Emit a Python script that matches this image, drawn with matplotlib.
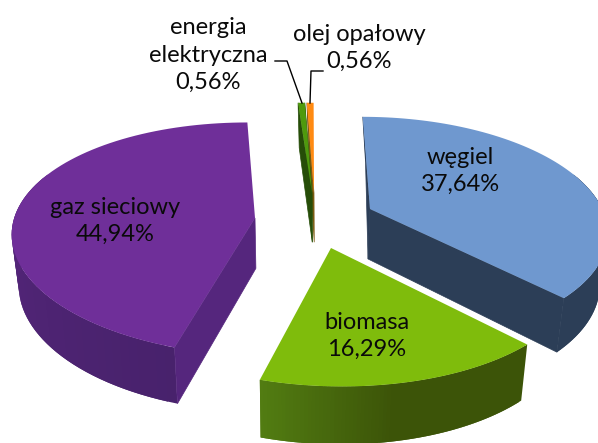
#------------------------------------------------------------------------------
import numpy as np
import matplotlib
matplotlib.use('Agg')
import matplotlib.pyplot as plt
from matplotlib.patches import Polygon

#------------------------------------------------------------------------------
# Dane (kolejnosc zgodnie z ruchem wskazowek zegara, od godziny 12)
nazwy = ['olej opałowy', 'węgiel', 'biomasa', 'gaz sieciowy', 'energia\nelektryczna']
udzialy = [0.56, 37.64, 16.29, 44.94, 0.56]

kolor_gora = ['#ff8a12', '#6f98cf', '#7fbc0c', '#6f2f99', '#4f9a0d']
kolor_bok = ['#7a5a10', '#2c3e57', '#4a6e0a', '#55267d', '#264d08']
kolor_luk_a = ['#a85a08', '#2c3e57', '#3c5408', '#48226c', '#264d08']
kolor_luk_b = ['#a85a08', '#2c3e57', '#527d12', '#62298a', '#264d08']

# Polozenie wierzcholkow wycinkow (rozsuniecie) i skala promienia
wierzcholki = [(314, 193), (370, 209), (331, 248), (255, 218), (312, 193)]
skala = [0.94, 0.96, 1.0, 0.995, 0.94]
boki = [('a',), ('a', 'b'), (), ('a',), ('a', 'b')]
# Korekta katow i dolnej krawedzi (znieksztalcenie perspektywy w oryginale)
obrot = [0, -2, 0, 2, 0]
korekta_dolu = [-3, 0, 0, 0, -4]

polozenie_etykiet = [(359, 48), (460, 171), (367, 336), (115, 221), (208, 55)]

A, B, S, K = 242.0, 113.4, -9.0, 0.181


#------------------------------------------------------------------------------
# Rzut punktu okregu na ekran (perspektywa).
def rzut(theta, wierzcholek, r=1.0):
    u, v = np.sin(theta), np.cos(theta)
    w = 1 + K * v
    return (wierzcholek[0] + r * (A * u + S * v) / w,
            wierzcholek[1] - r * B * v / w)


def dol(x, y):
    dx = -0.0255 * (x - 290) + 0.05 * np.maximum(0, 210 - y)
    dy = 50 + 0.045 * (y - 210)
    return x + dx, y + dy


def mieszaj(c1, c2, t):
    a = np.array(matplotlib.colors.to_rgb(c1))
    b = np.array(matplotlib.colors.to_rgb(c2))
    return a + (b - a) * t


def rysuj_wycinek(ax, i, t0, t1):
    wierz = wierzcholki[i]
    r = skala[i]
    th = np.linspace(t0, t1, 80) + np.radians(obrot[i])
    x, y = rzut(th, wierz, r)
    xd, yd = dol(x, y)
    wx, wy = dol(*wierz)

    # sciana zewnetrzna z gradientem, paski zachodza na siebie
    for k in range(len(th) - 1):
        if np.cos(th[k]) > 0.35:
            continue
        t = (k + 0.5) / (len(th) - 1)
        if i == 2:
            t = (t - 0.55) / 0.45 if t > 0.55 else 0.0
        c = mieszaj(kolor_luk_a[i], kolor_luk_b[i], t)
        m = min(k + 2, len(th) - 1)
        ax.add_patch(Polygon([(x[k], y[k]), (x[k + 1], y[k + 1]), (x[m], y[m]),
                              (xd[m], yd[m]), (xd[k + 1], yd[k + 1]), (xd[k], yd[k])],
                             fc=c, ec='none'))

    # boczne sciany promieniowe
    if 'b' in boki[i]:
        ax.add_patch(Polygon([wierz, (x[-1], y[-1]),
                              (xd[-1] + korekta_dolu[i], yd[-1]), (wx, wy)],
                             fc=kolor_bok[i], ec=kolor_bok[i], lw=0.5))
    if 'a' in boki[i]:
        ax.add_patch(Polygon([wierz, (x[0], y[0]),
                              (xd[0] + korekta_dolu[i], yd[0]), (wx, wy)],
                             fc=kolor_bok[i], ec=kolor_bok[i], lw=0.5))

    # gorna sciana
    ax.add_patch(Polygon([wierz] + list(zip(x, y)), fc=kolor_gora[i], ec='none'))


#------------------------------------------------------------------------------
if __name__ == '__main__':

    plt.rcParams['font.family'] = ['Lato', 'DejaVu Sans']

    fig = plt.figure(figsize=(5.98, 4.43), dpi=100)
    ax = fig.add_axes([0, 0, 1, 1])
    ax.set_xlim(0, 598)
    ax.set_ylim(443, 0)
    ax.axis('off')

    katy = np.cumsum([0] + udzialy) / sum(udzialy) * 2 * np.pi
    for i in range(len(nazwy)):
        rysuj_wycinek(ax, i, katy[i], katy[i + 1])

    for i in range(len(nazwy)):
        opis = nazwy[i] + '\n' + f'{udzialy[i]:.2f}'.replace('.', ',') + '%'
        ax.text(polozenie_etykiet[i][0], polozenie_etykiet[i][1], opis, ha='center',
                va='center', fontsize=17, color='#0a0a0a', linespacing=1.37)

    # linie odniesienia
    ax.plot([275, 287, 302], [61, 61, 103], color='black', lw=1)
    ax.plot([323, 311, 310], [71, 71, 103], color='black', lw=1)

    fig.savefig('out.png', dpi=100)
